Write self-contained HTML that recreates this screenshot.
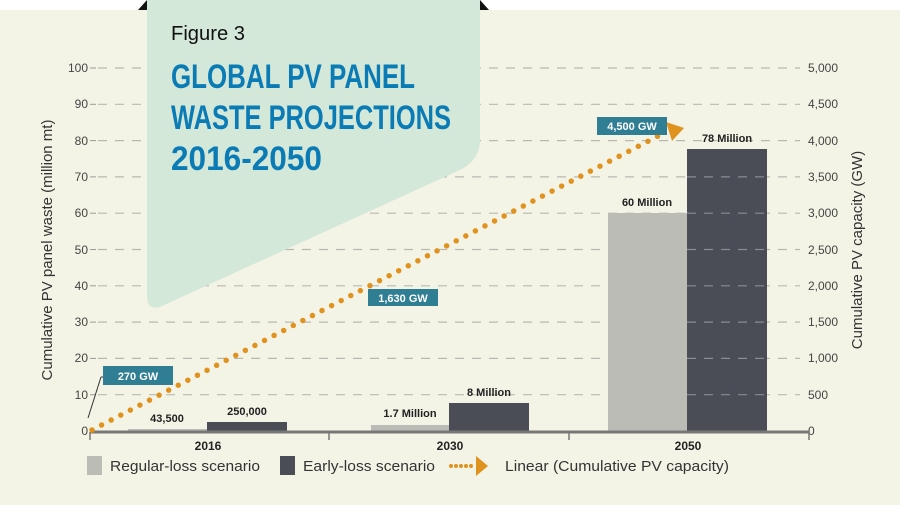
<!DOCTYPE html>
<html><head><meta charset="utf-8"><style>
html,body{margin:0;padding:0;width:900px;height:505px;overflow:hidden;background:#fff}
svg{display:block}
</style></head><body>
<svg width="900" height="505" viewBox="0 0 900 505" xmlns="http://www.w3.org/2000/svg" font-family="Liberation Sans, sans-serif">
<rect x="0" y="0" width="900" height="505" fill="#fff"/>
<rect x="0" y="10" width="900" height="495" fill="#f4f4e6"/>
<polygon points="138,10 147,0 147,10" fill="#111"/>
<polygon points="480,0 489,10 480,10" fill="#111"/>
<g stroke="#b8b8b0" stroke-width="1.2" stroke-dasharray="9,8">
<line x1="98" y1="68" x2="800" y2="68"/><line x1="98" y1="104.3" x2="800" y2="104.3"/>
<line x1="98" y1="140.6" x2="800" y2="140.6"/><line x1="98" y1="176.9" x2="800" y2="176.9"/>
<line x1="98" y1="213.2" x2="800" y2="213.2"/><line x1="98" y1="249.5" x2="800" y2="249.5"/>
<line x1="98" y1="285.8" x2="800" y2="285.8"/><line x1="98" y1="322.1" x2="800" y2="322.1"/>
<line x1="98" y1="358.4" x2="800" y2="358.4"/><line x1="98" y1="394.7" x2="800" y2="394.7"/>
</g>
<g stroke="#999" stroke-width="1">
<line x1="90" y1="68" x2="96" y2="68"/><line x1="90" y1="104.3" x2="96" y2="104.3"/><line x1="90" y1="140.6" x2="96" y2="140.6"/><line x1="90" y1="176.9" x2="96" y2="176.9"/><line x1="90" y1="213.2" x2="96" y2="213.2"/><line x1="90" y1="249.5" x2="96" y2="249.5"/><line x1="90" y1="285.8" x2="96" y2="285.8"/><line x1="90" y1="322.1" x2="96" y2="322.1"/><line x1="90" y1="358.4" x2="96" y2="358.4"/><line x1="90" y1="394.7" x2="96" y2="394.7"/>
</g>
<path d="M147,0 H480 V140 Q480,160 460,170 L162,306 Q147,312 147,296 Z" fill="#d3e8d8"/>
<text x="171" y="40" font-size="20" fill="#111" textLength="74" lengthAdjust="spacingAndGlyphs">Figure 3</text>
<g font-size="34" font-weight="bold" fill="#0a7bb5">
<text x="171" y="88" textLength="244" lengthAdjust="spacingAndGlyphs">GLOBAL PV PANEL</text>
<text x="171" y="129" textLength="280" lengthAdjust="spacingAndGlyphs">WASTE PROJECTIONS</text>
<text x="171" y="170" textLength="151" lengthAdjust="spacingAndGlyphs">2016-2050</text>
</g>
<g font-size="12" fill="#444" text-anchor="end">
<text x="88" y="72">100</text><text x="88" y="108">90</text><text x="88" y="145">80</text><text x="88" y="181">70</text><text x="88" y="217">60</text><text x="88" y="254">50</text><text x="88" y="290">40</text><text x="88" y="326">30</text><text x="88" y="362">20</text><text x="88" y="399">10</text><text x="88" y="435">0</text>
</g>
<g font-size="12" fill="#444">
<text x="808" y="72">5,000</text><text x="808" y="108">4,500</text><text x="808" y="145">4,000</text><text x="808" y="181">3,500</text><text x="808" y="217">3,000</text><text x="808" y="254">2,500</text><text x="808" y="290">2,000</text><text x="808" y="326">1,500</text><text x="808" y="362">1,000</text><text x="808" y="399">500</text><text x="808" y="435">0</text>
</g>
<text transform="translate(52,250) rotate(-90)" font-size="15" fill="#333" text-anchor="middle">Cumulative PV panel waste (million mt)</text>
<text transform="translate(862,250) rotate(-90)" font-size="15" fill="#333" text-anchor="middle">Cumulative PV capacity (GW)</text>
<rect x="128" y="429" width="79" height="3" fill="#bcbcb6"/>
<rect x="207" y="422" width="80" height="10" fill="#4a4d55"/>
<rect x="371" y="425" width="78" height="7" fill="#bcbcb6"/>
<rect x="449" y="403" width="80" height="29" fill="#4a4d55"/>
<rect x="608" y="213" width="79" height="219" fill="#bcbcb6"/>
<rect x="687" y="149" width="80" height="283" fill="#4a4d55"/>
<g stroke="#8a8c92" stroke-width="1.2" stroke-dasharray="9,8">
<line x1="687" y1="176.9" x2="767" y2="176.9"/><line x1="687" y1="213.2" x2="767" y2="213.2"/><line x1="687" y1="249.5" x2="767" y2="249.5"/><line x1="687" y1="285.8" x2="767" y2="285.8"/><line x1="687" y1="322.1" x2="767" y2="322.1"/><line x1="687" y1="358.4" x2="767" y2="358.4"/><line x1="687" y1="394.7" x2="767" y2="394.7"/>
</g>
<g font-size="11" font-weight="bold" fill="#222" text-anchor="middle">
<text x="167" y="422">43,500</text><text x="247" y="415">250,000</text>
<text x="410" y="417">1.7 Million</text><text x="489" y="396">8 Million</text>
<text x="647" y="206">60 Million</text><text x="727" y="142">78 Million</text>
</g>
<line x1="90" y1="432" x2="809" y2="432" stroke="#777" stroke-width="3"/>
<g stroke="#777" stroke-width="1.5"><line x1="90" y1="432" x2="90" y2="440"/><line x1="329" y1="432" x2="329" y2="440"/><line x1="569" y1="432" x2="569" y2="440"/><line x1="809" y1="432" x2="809" y2="440"/></g>
<g font-size="12" font-weight="bold" fill="#222" text-anchor="middle">
<text x="208" y="450">2016</text><text x="450" y="450">2030</text><text x="688" y="450">2050</text>
</g>
<line x1="92" y1="430" x2="662" y2="134" stroke="#e0921e" stroke-width="5.5" stroke-linecap="round" stroke-dasharray="0,10.8"/>
<polygon points="666,122 684,128 672,141" fill="#e0921e"/>
<line x1="88" y1="418" x2="101" y2="377" stroke="#333" stroke-width="1"/>
<line x1="101" y1="377" x2="104" y2="377" stroke="#333" stroke-width="1"/>
<g fill="#2f7e93"><rect x="103" y="366" width="70" height="19"/><rect x="368" y="289" width="70" height="17"/><rect x="597" y="117" width="70" height="18"/></g>
<g font-size="11" font-weight="bold" fill="#fff" text-anchor="middle">
<text x="138" y="380">270 GW</text><text x="403" y="302">1,630 GW</text><text x="632" y="130">4,500 GW</text>
</g>
<rect x="87" y="456" width="15" height="19" fill="#bcbcb6"/>
<text x="110" y="471" font-size="15" fill="#333" textLength="150" lengthAdjust="spacingAndGlyphs">Regular-loss scenario</text>
<rect x="280" y="456" width="15" height="19" fill="#4a4d55"/>
<text x="303" y="471" font-size="15" fill="#333" textLength="132" lengthAdjust="spacingAndGlyphs">Early-loss scenario</text>
<line x1="451" y1="466" x2="474" y2="466" stroke="#e0921e" stroke-width="4" stroke-linecap="round" stroke-dasharray="0,5"/>
<polygon points="476,456 488,466 476,476" fill="#e0921e"/>
<text x="505" y="471" font-size="15" fill="#333" textLength="224" lengthAdjust="spacingAndGlyphs">Linear (Cumulative PV capacity)</text>
</svg>
</body></html>
